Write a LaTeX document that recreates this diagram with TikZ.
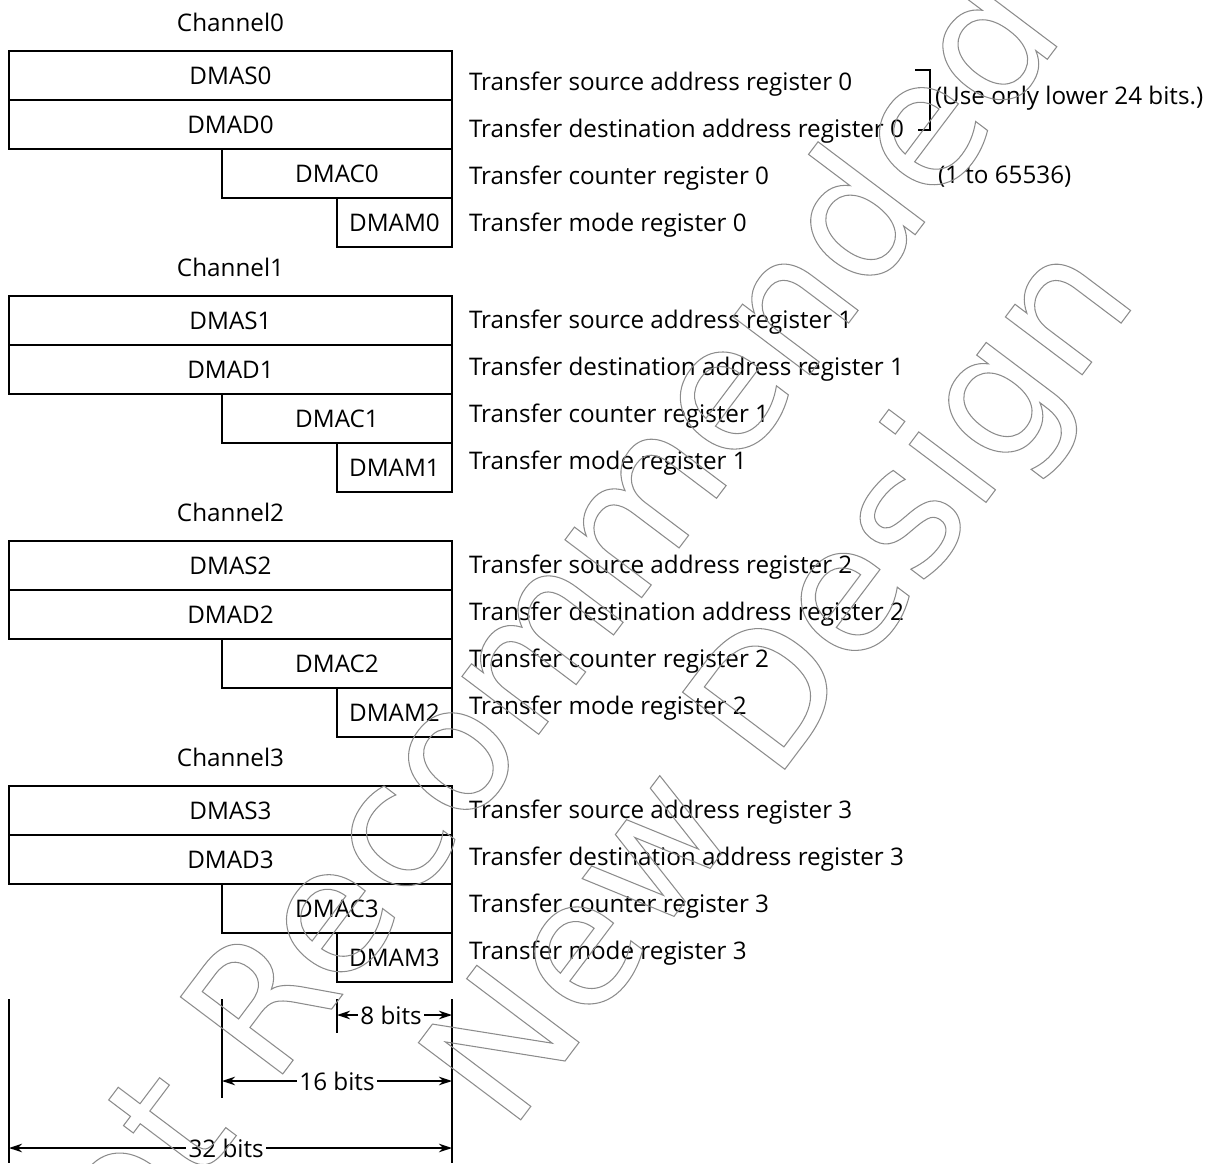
\documentclass[tikz,border=0pt]{standalone}
\usepackage{fontspec}
\setmainfont{Open Sans}
\newfontfamily\wmfont{DejaVu Sans}
\usepackage{tikz}
\usetikzlibrary{arrows.meta,positioning}
\newcommand\outlineon{\special{pdf:literal direct 1 Tr 0.6 w}}
\newcommand\outlineoff{\special{pdf:literal direct 0 Tr}}

\begin{document}
\begin{tikzpicture}[x=0.02cm, y=-0.02cm, >={Stealth[length=0.26cm,width=0.17cm]},
    every node/.style={font=\fontsize{13.8}{16}\selectfont, inner sep=0pt, outer sep=0pt},
    reg/.style={draw, line width=0.9pt, minimum height=0.98cm},
    lbl/.style={anchor=base west},
    dimline/.style={line width=0.9pt},
    dimtext/.style={fill=white, inner sep=1.5pt},
    wmark/.style={text=black!45, anchor=base, rotate=53, font=\wmfont\fontsize{100}{120}\selectfont}]
    \useasboundingbox (0,0) rectangle (1216,1163);
    % one block of four registers per channel
    \foreach \i/\ly in {0/83, 1/321, 2/566, 3/811} {
        \node[reg, minimum width=8.86cm] (s\i) at (230.5, 75.5+245*\i) {DMAS\i};
        \node[reg, minimum width=8.86cm, below=0pt of s\i] (d\i) {DMAD\i};
        \node[reg, minimum width=4.6cm, anchor=north east] (c\i) at (d\i.south east) {DMAC\i};
        \node[reg, minimum width=2.3cm, anchor=north east] (m\i) at (c\i.south east) {DMAM\i};
        \node[above=0.58cm of s\i.north, anchor=center] (ch\i) {Channel\i};
        \node[lbl] (ls\i) at (469, \ly+7.5) {Transfer source address register \i};
        \node[lbl] (ld\i) at (469, \ly+54.5) {Transfer destination address register \i};
        \node[lbl] (lc\i) at (469, \ly+101.5) {Transfer counter register \i};
        \node[lbl] (lm\i) at (469, \ly+148.5) {Transfer mode register \i};
    }
    \node[anchor=west] (use24) at (935, 98) {(Use only lower 24 bits.)};
    \node[anchor=west] (range) at (938, 177) {(1 to 65536)};
    \coordinate (brtop) at (915, 70);
    \coordinate (brbot) at (918, 130);
    \draw[line width=0.8pt] (brtop) -- (930, 70) -- (930, 130) -- (brbot);
    % bit widths
    \coordinate (w32l) at (9, 999);
    \coordinate (w16l) at (222, 999);
    \coordinate (w8l) at (337, 999);
    \coordinate (wr) at (452, 999);
    \draw[dimline] (w32l) -- (9, 1163);
    \draw[dimline] (w16l) -- (222, 1098);
    \draw[dimline] (w8l) -- (337, 1033);
    \draw[dimline] (wr) -- (452, 1163);
    \draw[dimline, <->] (337, 1015) -- node[dimtext, pos=0.47] (b8) {8 bits} (452, 1015);
    \draw[dimline, <->] (222, 1081) -- node[dimtext, pos=0.5] (b16) {16 bits} (452, 1081);
    \draw[dimline, <->] (9, 1148) -- node[dimtext, pos=0.49] (b32) {32 bits} (452, 1148);
    % watermark
    \begin{scope}
        \clip (0,0) rectangle (1216,1163);
        \node[wmark] (wm1) at (560, 706) {\outlineon Not Recommended\outlineoff};
        \node[wmark] (wm2) at (825, 716) {\outlineon New Design\outlineoff};
    \end{scope}
\end{tikzpicture}
\end{document}
